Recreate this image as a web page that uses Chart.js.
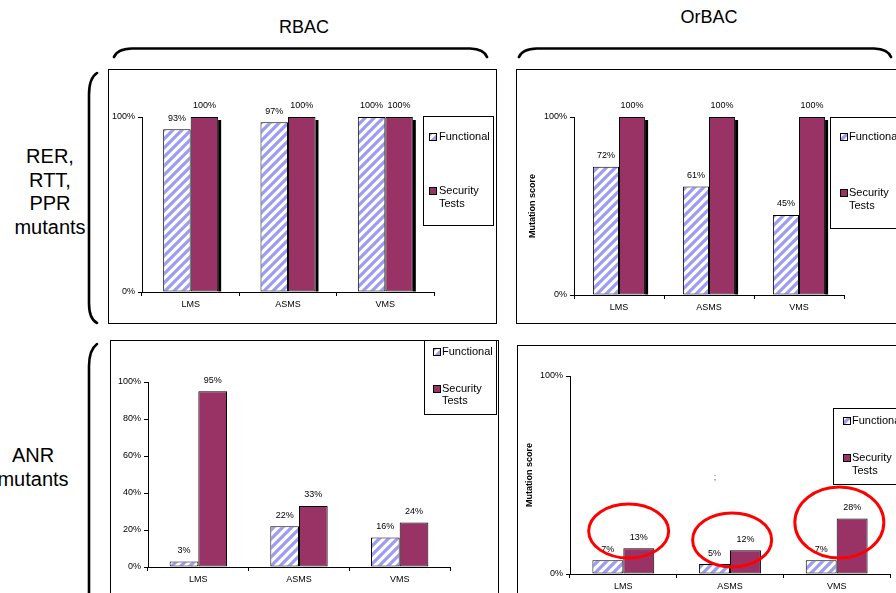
<!DOCTYPE html>
<html><head><meta charset="utf-8">
<script src="https://cdn.jsdelivr.net/npm/chart.js@4.4.1/dist/chart.umd.min.js"></script>
<style>
html,body{margin:0;padding:0;width:896px;height:593px;overflow:hidden;background:#fff;font-family:'Liberation Sans',Arial,sans-serif;}
canvas{position:absolute;display:block;}
.lbl{position:absolute;color:#000;text-align:center;white-space:nowrap;}
svg{position:absolute;left:0;top:0;}
</style></head><body>
<svg width="896" height="593">
  <g fill="none" stroke="#000" stroke-width="2.6" stroke-linecap="round">
    <path d="M114 57 Q117 49 132 48.5 L470 48.5 Q484 49 487 57"/>
    <path d="M519 57 Q522 49 537 48.5 L874 48.5 Q888 49 891 57"/>
    <path d="M97 73 Q89 78 89 95 L89 303 Q89 319 97 323"/>
    <path d="M97 344 Q89 350 89 366 L89 600"/>
  </g>
</svg>
<div class="lbl" style="left:254px;top:17px;width:100px;font-size:18px;line-height:20px;">RBAC</div>
<div class="lbl" style="left:659px;top:7px;width:100px;font-size:18px;line-height:20px;">OrBAC</div>
<div class="lbl" style="left:0px;top:145px;width:100px;font-size:20px;line-height:23.5px;">RER,<br>RTT,<br>PPR<br>mutants</div>
<div class="lbl" style="left:-17px;top:443px;width:100px;font-size:20px;line-height:24px;">ANR<br>mutants</div>
<canvas id="p1" width="389" height="255" style="left:108px;top:69px;"></canvas>
<canvas id="p2" width="420" height="255" style="left:516px;top:69px;"></canvas>
<canvas id="p3" width="389" height="260" style="left:110px;top:340px;"></canvas>
<canvas id="p4" width="420" height="260" style="left:517px;top:345px;"></canvas>
<div class="lbl" style="left:705px;top:471px;width:20px;font-size:9px;line-height:12px;color:#555;">;</div>
<script>
// ---- data ----
const categories = ['LMS', 'ASMS', 'VMS'];
const seriesNames = ['Functional', 'Security Tests'];
const axisTitle = 'Mutation score';
const yTicksEnds = [0, 100];
const yTicksFifths = [0, 20, 40, 60, 80, 100];
const rbacRerFunctional = [93, 97, 100];
const rbacRerSecurity = [100, 100, 100];
const orbacRerFunctional = [72, 61, 45];
const orbacRerSecurity = [100, 100, 100];
const rbacAnrFunctional = [3, 22, 16];
const rbacAnrSecurity = [95, 33, 24];
const orbacAnrFunctional = [7, 5, 7];
const orbacAnrSecurity = [13, 12, 28];
// highlight rings (category index + offset, value level of centre)
const ringCats = [0.05, 1.02, 2.025];
const ringVals = [21.7, 17.2, 26];

// ---- styling / layout ----
Chart.defaults.font.family = "'Liberation Sans', Arial, sans-serif";
Chart.defaults.font.size = 9;
Chart.defaults.color = '#000';
const SEC_COLOR = '#993366';
const HATCH_COLOR = '#9C9CF2';

const specs = [
  {id:'p1', w:389, h:255, fn:rbacRerFunctional, sec:rbacRerSecurity, ticks:yTicksEnds,
   area:[34,48,326,223], shadow:true, yTitle:null, cp:0.565,
   legend:{x:315,y:47,w:70,h:109,mx:321,tx:331,rows:[68,122],lh:12.5}},
  {id:'p2', w:420, h:255, fn:orbacRerFunctional, sec:orbacRerSecurity, ticks:yTicksEnds,
   area:[58,48,328,226], shadow:true, yTitle:11.6, cp:0.58,
   legend:{x:314,y:48,w:120,h:111,mx:324,tx:333,rows:[68,124],lh:13}},
  {id:'p3', w:389, h:260, fn:rbacAnrFunctional, sec:rbacAnrSecurity, ticks:yTicksFifths,
   area:[38,42,340,227], shadow:false, yTitle:null, cp:0.57,
   legend:{x:314,y:0,w:72,h:74,mx:323,tx:332,rows:[12,49],lh:11.7}},
  {id:'p4', w:420, h:260, fn:orbacAnrFunctional, sec:orbacAnrSecurity, ticks:yTicksEnds,
   area:[53,31,373,229], shadow:false, yTitle:7.6, cp:0.58, rings:true,
   legend:{x:316,y:63,w:120,h:76,mx:326,tx:335,rows:[76,113],lh:13}}
];
const ringSizes = [[40,27],[39.5,27],[44.5,35.5]];

function makeHatch(ctx){
  const s = 9;
  const t = document.createElement('canvas'); t.width = s; t.height = s;
  const c = t.getContext('2d');
  c.fillStyle = '#fff'; c.fillRect(0,0,s,s);
  c.strokeStyle = HATCH_COLOR; c.lineWidth = 3.2;
  c.beginPath();
  c.moveTo(-2, s+2); c.lineTo(s+2, -2);
  c.moveTo(-2, 2); c.lineTo(2, -2);
  c.moveTo(s-2, s+2); c.lineTo(s+2, s-2);
  c.stroke();
  return ctx.createPattern(t, 'repeat');
}

specs.forEach(s => {
  const el = document.getElementById(s.id);
  const ctx = el.getContext('2d');
  const hatch = makeHatch(ctx);
  const a = s.area;

  const plugins = [
    { id:'frame', afterDraw(chart){
        const c = chart.ctx; c.save(); c.strokeStyle = '#000'; c.lineWidth = 1;
        c.strokeRect(0.5, 0.5, s.w - 1, s.h - 1); c.restore(); } },
    { id:'shadow', beforeDatasetsDraw(chart){
        if (!s.shadow) return;
        const c = chart.ctx; c.save(); c.fillStyle = '#000';
        chart.getDatasetMeta(1).data.forEach(b => {
          const p = b.getProps(['x','y','width','base'], true);
          c.fillRect(p.x + p.width/2, p.y + 3, 3, p.base - p.y - 3);
        });
        c.restore(); } },
    { id:'values', afterDatasetsDraw(chart){
        const c = chart.ctx; c.save();
        c.font = "9px 'Liberation Sans', Arial, sans-serif"; c.fillStyle = '#000';
        c.textAlign = 'center'; c.textBaseline = 'middle';
        chart.data.datasets.forEach((ds, di) => {
          chart.getDatasetMeta(di).data.forEach((b, i) => {
            c.fillText(ds.data[i] + '%', b.x, b.y - 11);
          });
        });
        c.restore(); } },
    { id:'rings', afterDatasetsDraw(chart){
        if (!s.rings) return;
        const c = chart.ctx; c.save(); c.strokeStyle = '#FF0000'; c.lineWidth = 3;
        const xs = chart.scales.x, ys = chart.scales.y;
        ringCats.forEach((cx, i) => {
          const base = Math.floor(cx);
          const px = xs.getPixelForValue(base) + (cx - base) * (xs.getPixelForValue(1) - xs.getPixelForValue(0));
          const py = ys.getPixelForValue(ringVals[i]);
          c.beginPath(); c.ellipse(px, py, ringSizes[i][0], ringSizes[i][1], 0, 0, Math.PI*2); c.stroke();
        });
        c.restore(); } },
    { id:'boxLegend', afterDraw(chart){
        const L = s.legend, c = chart.ctx; c.save();
        c.fillStyle = '#fff'; c.fillRect(L.x + 0.5, L.y + 0.5, L.w, L.h);
        c.strokeStyle = '#000'; c.lineWidth = 1; c.strokeRect(L.x + 0.5, L.y + 0.5, L.w, L.h);
        c.font = "11px 'Liberation Sans', Arial, sans-serif"; c.textBaseline = 'middle'; c.textAlign = 'left';
        chart.data.datasets.forEach((ds, di) => {
          const y = L.rows[di];
          c.fillStyle = ds.backgroundColor;
          c.fillRect(L.mx + 0.5, y - 3.5, 7, 7);
          c.strokeStyle = '#000'; c.strokeRect(L.mx + 0.5, y - 3.5, 7, 7);
          c.fillStyle = '#000';
          ds.label.split(' ').forEach((word, k) => c.fillText(word, L.tx, y + k * L.lh));
        });
        c.restore(); } }
  ];

  new Chart(ctx, {
    type: 'bar',
    data: {
      labels: categories,
      datasets: [
        {label: seriesNames[0], data: s.fn, backgroundColor: hatch, borderColor: '#000', borderWidth: 1,
         borderSkipped: false, categoryPercentage: s.cp, barPercentage: 1},
        {label: seriesNames[1], data: s.sec, backgroundColor: SEC_COLOR, borderColor: '#000', borderWidth: 1,
         borderSkipped: false, categoryPercentage: s.cp, barPercentage: 1}
      ]
    },
    options: {
      responsive: false, animation: false, events: [],
      layout: {padding: {left: 0, top: a[1], right: s.w - a[2], bottom: 0}},
      plugins: {legend: {display: false}, tooltip: {enabled: false}},
      scales: {
        x: {
          grid: {display: true, offset: true, drawOnChartArea: false, drawTicks: true, tickLength: 4, color: '#000'},
          border: {display: true, color: '#000', width: 1},
          ticks: {padding: 3, maxRotation: 0, color: '#000', font: {size: 9}},
          afterFit: sc => { sc.height = s.h - a[3]; }
        },
        y: {
          min: 0, max: 100,
          grid: {display: true, drawOnChartArea: false, drawTicks: true, tickLength: 4, color: '#000'},
          border: {display: true, color: '#000', width: 1},
          ticks: {padding: 3, color: '#000', font: {size: 9}, callback: v => v + '%'},
          afterBuildTicks: sc => { sc.ticks = s.ticks.map(v => ({value: v})); },
          afterFit: sc => { sc.width = a[0]; },
          title: {display: s.yTitle !== null, text: axisTitle, color: '#000',
                  font: {size: 9, weight: 'bold'}, padding: {top: s.yTitle || 0, bottom: 0}}
        }
      }
    },
    plugins: plugins
  });
});
</script>
</body></html>
